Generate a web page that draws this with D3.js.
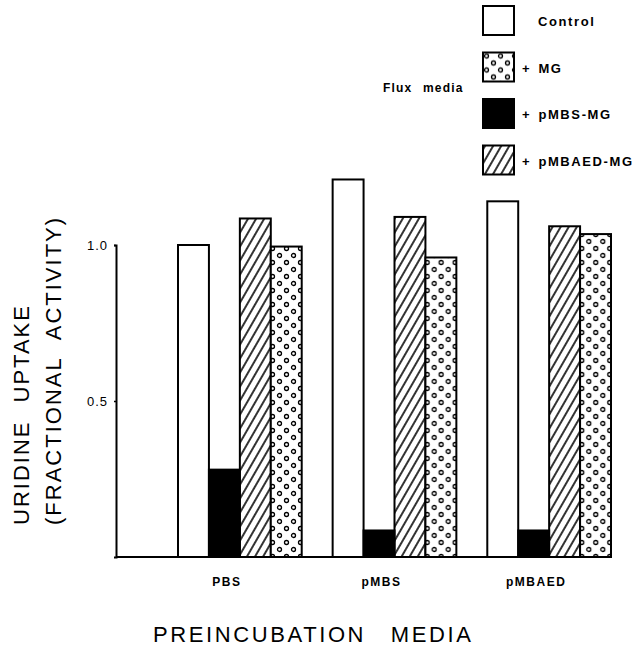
<!DOCTYPE html>
<html>
<head>
<meta charset="utf-8">
<script src="https://cdn.jsdelivr.net/npm/d3@7"></script>
<style>
  html, body { margin: 0; padding: 0; background: #fff; }
  svg { display: block; }
</style>
</head>
<body>
<div id="chart"></div>
<script>
// preincubation media (groups) and flux media (series)
const groups = ['PBS', 'pMBS', 'pMBAED'];
const series = ['control', 'pmbs', 'pmbaed', 'mg'];

const control = [1.0, 1.21, 1.14];
const pmbsMG = [0.28, 0.085, 0.085];
const pmbaedMG = [1.085, 1.09, 1.06];
const plusMG = [0.995, 0.96, 1.035];

const yTicks = [0.5, 1.0];

const legendKeys = ['control', 'mg', 'pmbs', 'pmbaed'];
const legendLabels = ['Control', '+ MG', '+ pMBS-MG', '+ pMBAED-MG'];

const values = { control, pmbs: pmbsMG, pmbaed: pmbaedMG, mg: plusMG };

const width = 640, height = 647;

const svg = d3.select('#chart')
  .append('svg')
  .attr('width', width)
  .attr('height', height)
  .attr('viewBox', [0, 0, width, height]);

const defs = svg.append('defs');

// diagonal hatching
defs.append('pattern')
  .attr('id', 'hatch')
  .attr('patternUnits', 'userSpaceOnUse')
  .attr('width', 7)
  .attr('height', 7)
  .attr('patternTransform', 'rotate(30)')
  .append('line')
  .attr('x1', 2).attr('y1', 0)
  .attr('x2', 2).attr('y2', 7)
  .attr('stroke', '#000')
  .attr('stroke-width', 1.6);

// small open circles
const dots = defs.append('pattern')
  .attr('id', 'dots')
  .attr('patternUnits', 'userSpaceOnUse')
  .attr('width', 14)
  .attr('height', 14);
dots.append('rect').attr('width', 14).attr('height', 14).attr('fill', '#fff');
[[3.5, 3.5], [10.5, 10.5]].forEach(([cx, cy]) => {
  dots.append('circle')
    .attr('cx', cx).attr('cy', cy).attr('r', 2)
    .attr('fill', '#fff')
    .attr('stroke', '#000')
    .attr('stroke-width', 1.3);
});

const fills = {
  control: '#fff',
  mg: 'url(#dots)',
  pmbs: '#000',
  pmbaed: 'url(#hatch)'
};

const y = d3.scaleLinear()
  .domain([0, 1])
  .range([557, 245]);

const x0 = d3.scaleBand()
  .domain(groups)
  .range([178, 611])
  .paddingInner(0.2);

const x1 = d3.scaleBand()
  .domain(series)
  .range([0, x0.bandwidth()]);

const axisX = 116;

// bars
const g = svg.append('g')
  .selectAll('g')
  .data(groups)
  .join('g')
  .attr('transform', d => `translate(${x0(d)},0)`);

g.selectAll('rect')
  .data((d, i) => series.map(k => ({ key: k, value: values[k][i] })))
  .join('rect')
  .attr('x', d => x1(d.key))
  .attr('y', d => y(d.value))
  .attr('width', x1.bandwidth())
  .attr('height', d => y(0) - y(d.value))
  .attr('fill', d => fills[d.key])
  .attr('stroke', '#000')
  .attr('stroke-width', 2);

// baseline
svg.append('line')
  .attr('x1', axisX)
  .attr('x2', x0(groups[groups.length - 1]) + x0.bandwidth() + 1)
  .attr('y1', y(0))
  .attr('y2', y(0))
  .attr('stroke', '#000')
  .attr('stroke-width', 2);

// y axis
const yAxis = svg.append('g')
  .attr('transform', `translate(${axisX},0)`)
  .call(d3.axisLeft(y)
    .tickValues(yTicks)
    .tickFormat(d3.format('.1f'))
    .tickSizeOuter(0)
    .tickSize(2)
    .tickPadding(6));

yAxis.select('.domain')
  .attr('stroke-width', 2);
yAxis.selectAll('.tick line')
  .attr('stroke-width', 1.5);
yAxis.selectAll('.tick text')
  .attr('font-family', 'Liberation Sans, Arial, sans-serif')
  .attr('font-size', 13)
  .attr('letter-spacing', 1)
  .attr('fill', '#000');

// category labels
svg.append('g')
  .attr('transform', `translate(0,${y(0)})`)
  .call(d3.axisBottom(x0).tickSize(0).tickPadding(20))
  .call(a => a.select('.domain').remove())
  .selectAll('text')
  .attr('dx', -13)
  .attr('font-family', 'Liberation Sans, Arial, sans-serif')
  .attr('font-weight', 'bold')
  .attr('font-size', 12)
  .attr('letter-spacing', 1.5)
  .attr('fill', '#000');

// axis titles
svg.append('text')
  .attr('x', 153)
  .attr('y', 642)
  .attr('font-family', 'Liberation Sans, Arial, sans-serif')
  .attr('font-size', 22)
  .attr('letter-spacing', 2.6)
  .attr('word-spacing', 16)
  .text('PREINCUBATION MEDIA');

const yTitle = svg.append('text')
  .attr('transform', 'translate(0,525) rotate(-90)')
  .attr('font-family', 'Liberation Sans, Arial, sans-serif')
  .attr('font-size', 22)
  .attr('letter-spacing', 2)
  .attr('word-spacing', 10);
yTitle.append('tspan').attr('x', 0).attr('y', 29).text('URIDINE UPTAKE');
yTitle.append('tspan').attr('x', 0).attr('y', 61).text('(FRACTIONAL ACTIVITY)');

// legend
svg.append('text')
  .attr('x', 383)
  .attr('y', 92)
  .attr('font-family', 'Liberation Sans, Arial, sans-serif')
  .attr('font-weight', 'bold')
  .attr('font-size', 12)
  .attr('letter-spacing', 1.2)
  .attr('word-spacing', 6)
  .text('Flux media');

const legend = svg.append('g')
  .selectAll('g')
  .data(legendKeys)
  .join('g')
  .attr('transform', (d, i) => `translate(483,${6 + i * 46.5})`);

legend.append('rect')
  .attr('width', 31)
  .attr('height', 29)
  .attr('fill', d => fills[d])
  .attr('stroke', '#000')
  .attr('stroke-width', 2);

legend.append('text')
  .attr('x', (d, i) => i === 0 ? 55 : 39)
  .attr('y', 20)
  .attr('font-family', 'Liberation Sans, Arial, sans-serif')
  .attr('font-weight', 'bold')
  .attr('font-size', 13)
  .attr('letter-spacing', 1.6)
  .attr('word-spacing', 2)
  .text((d, i) => legendLabels[i]);
</script>
</body>
</html>
